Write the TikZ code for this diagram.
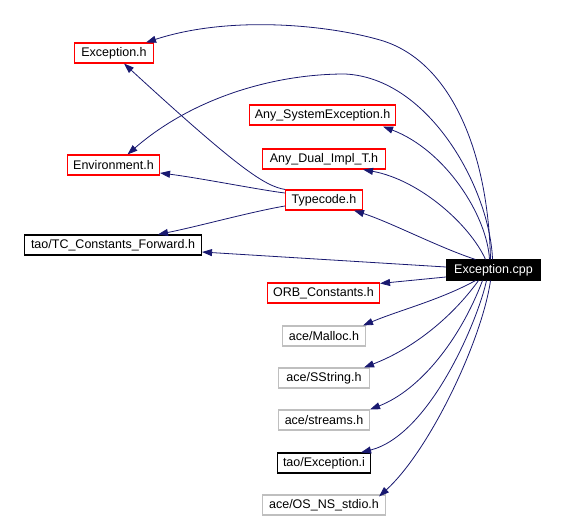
\documentclass[tikz,border=0pt]{standalone}
\usepackage{fontspec}
\setmainfont{Liberation Sans}
\usetikzlibrary{arrows.meta}
\definecolor{edgeblue}{HTML}{191970}
\definecolor{boxgray}{HTML}{BFBFBF}
\definecolor{boxred}{HTML}{FF0000}
\tikzset{
  filebox/.style={draw, line width=1.1pt, inner sep=0pt, minimum height=20pt, font=\fontsize{12.5}{14}\selectfont, text=black},
  redbox/.style={filebox, draw=boxred},
  blackbox/.style={filebox, draw=black},
  graybox/.style={filebox, draw=boxgray},
  mainbox/.style={filebox, draw=black, fill=black, text=white},
  dep/.style={draw=edgeblue, line width=0.8pt, -{Triangle[length=10pt,width=7pt]}}
}
\begin{document}
\begin{tikzpicture}[x=1pt,y=-1pt]
\useasboundingbox (0,0) rectangle (564,518);
\node[redbox, minimum width=79pt] (exch) at (114,53) {Exception.h};
\node[redbox, minimum width=92pt] (env) at (113.5,165) {Environment.h};
\node[redbox, minimum width=146pt] (anysys) at (322.5,115) {Any\_SystemException.h};
\node[redbox, minimum width=123pt] (anydual) at (324,159) {Any\_Dual\_Impl\_T.h};
\node[redbox, minimum width=77pt] (tc) at (324,200) {Typecode.h};
\node[blackbox, minimum width=177pt] (tcf) at (113,245) {tao/TC\_Constants\_Forward.h};
\node[mainbox, minimum width=94pt] (cpp) at (493.5,270) {Exception.cpp};
\node[redbox, minimum width=112pt] (orb) at (323.5,293) {ORB\_Constants.h};
\node[graybox, minimum width=83pt] (malloc) at (324,336) {ace/Malloc.h};
\node[graybox, minimum width=91pt] (sstring) at (324,378) {ace/SString.h};
\node[graybox, minimum width=91pt] (streams) at (324,420) {ace/streams.h};
\node[blackbox, minimum width=93pt] (exi) at (324,463) {tao/Exception.i};
\node[graybox, minimum width=123pt] (osns) at (324,505) {ace/OS\_NS\_stdio.h};
\draw[dep] ([xshift=-3pt]cpp.north) .. controls (488,150) and (450,60) .. (380,40)
  .. controls (328,25) and (230,15) .. ([xshift=-8pt]exch.north east);
\draw[dep] ([xshift=-1pt]cpp.north) .. controls (490,190) and (430,78) .. (345,74)
  .. controls (270,74) and (190,100) .. ([xshift=14pt]env.north);
\draw[dep] ([xshift=-4pt]cpp.north) .. controls (487,215) and (445,150) .. ([xshift=-13pt,yshift=-1pt]anysys.south east);
\draw[dep] ([xshift=-8pt]cpp.north) .. controls (470,225) and (420,180) .. ([xshift=-23pt]anydual.south east);
\draw[dep] ([xshift=-18pt]cpp.north) .. controls (440,248) and (390,222) .. ([xshift=-9pt]tc.south east);
\draw[dep] ([yshift=3pt]cpp.west) -- ([yshift=-7pt]tcf.east);
\draw[dep] ([yshift=-7pt]cpp.west) -- ([yshift=-1pt]orb.north east);
\draw[dep] ([xshift=-18pt]cpp.south) .. controls (440,300) and (400,310) .. ([xshift=-3pt]malloc.north east);
\draw[dep] ([xshift=-15pt]cpp.south) .. controls (450,320) and (410,350) .. ([xshift=-6pt]sstring.north east);
\draw[dep] ([xshift=-11pt]cpp.south) .. controls (460,340) and (420,390) .. (streams.north east);
\draw[dep] ([xshift=-7pt]cpp.south) .. controls (478,320) and (430,435) .. ([xshift=-10pt]exi.north east);
\draw[dep] ([xshift=-3pt]cpp.south) .. controls (482,340) and (430,450) .. ([xshift=-7pt,yshift=-2pt]osns.north east);
\draw[dep] (tc.north west) .. controls (265,186) and (240,170) .. ([xshift=10pt]exch.south);
\draw[dep] ([yshift=7pt]tc.west) .. controls (260,190) and (200,178) .. ([yshift=-8pt]env.east);
\draw[dep] ([yshift=-6pt]tc.west) .. controls (250,212) and (200,226) .. ([xshift=45pt]tcf.north);
\end{tikzpicture}
\end{document}
